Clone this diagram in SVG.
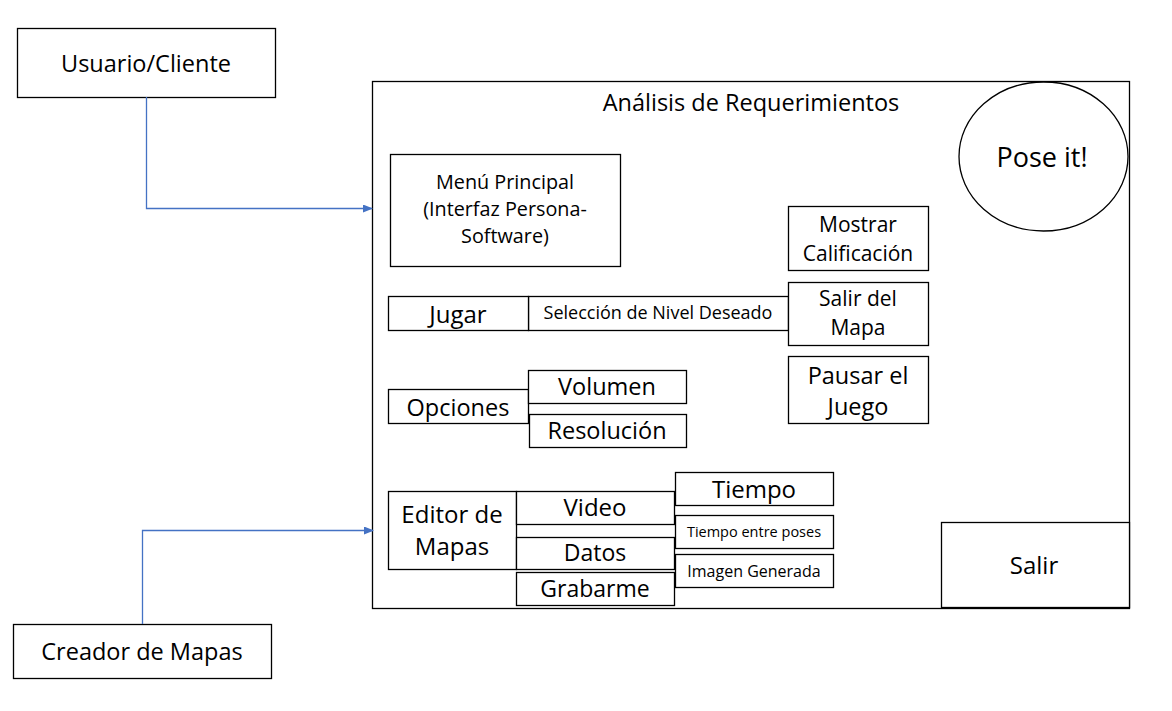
<svg xmlns="http://www.w3.org/2000/svg" width="1172" height="711" viewBox="0 0 1172 711">
<defs>
<style>
.b{fill:#fff;stroke:#000;stroke-width:1.3}
.t{font-family:"Open Sans","Liberation Sans",sans-serif;fill:#000;text-anchor:middle}
.c{fill:none;stroke:#4472C4;stroke-width:1.3}
</style>
<marker id="ah" markerWidth="10" markerHeight="8" refX="9" refY="4" orient="auto" markerUnits="userSpaceOnUse">
<path d="M0,0 L10,4 L0,8 Z" fill="#4472C4"/>
</marker>
</defs>
<rect width="1172" height="711" fill="#fff"/>
<g id="usuario">
<rect class="b" x="17.5" y="28.5" width="258" height="69"/>
<text class="t" x="146" y="72" font-size="23.5">Usuario/Cliente</text>
</g>
<g id="creador">
<rect class="b" x="13.5" y="624.5" width="258" height="54"/>
<text class="t" x="142" y="660" font-size="23.5">Creador de Mapas</text>
</g>
<g id="analisis">
<rect class="b" x="372.5" y="81.5" width="757" height="527"/>
<text class="t" x="751" y="111" font-size="23.5">Análisis de Requerimientos</text>
</g>
<g id="pose">
<ellipse class="b" cx="1043.5" cy="156.5" rx="84.5" ry="74.5" stroke-width="1.8"/>
<text class="t" x="1042" y="167" font-size="27">Pose it!</text>
</g>
<g id="menu">
<rect class="b" x="390.5" y="154.5" width="230" height="112"/>
<text class="t" x="505" y="189" font-size="19.8">Menú Principal</text>
<text class="t" x="505" y="216" font-size="19.8">(Interfaz Persona-</text>
<text class="t" x="505" y="243" font-size="19.8">Software)</text>
</g>
<g id="seleccion">
<rect class="b" x="528.5" y="296.5" width="260" height="34"/>
<text class="t" x="658" y="319" font-size="18">Selección de Nivel Deseado</text>
</g>
<g id="jugar">
<rect class="b" x="388.5" y="296.5" width="140" height="34"/>
<text class="t" x="458" y="323" font-size="24">Jugar</text>
</g>
<g id="mostrar">
<rect class="b" x="788.5" y="206.5" width="140" height="64"/>
<text class="t" x="858" y="232" font-size="21">Mostrar</text>
<text class="t" x="858" y="261" font-size="21">Calificación</text>
</g>
<g id="salirmapa">
<rect class="b" x="788.5" y="282.5" width="140" height="63"/>
<text class="t" x="858" y="306" font-size="21">Salir del</text>
<text class="t" x="858" y="335" font-size="21">Mapa</text>
</g>
<g id="pausar">
<rect class="b" x="788.5" y="356.5" width="140" height="67"/>
<text class="t" x="858" y="384" font-size="23.5">Pausar el</text>
<text class="t" x="858" y="415" font-size="23.5">Juego</text>
</g>
<g id="opciones">
<rect class="b" x="388.5" y="389.5" width="140" height="34"/>
<text class="t" x="458" y="416" font-size="23.5">Opciones</text>
</g>
<g id="volumen">
<rect class="b" x="528.5" y="370.5" width="158" height="33"/>
<text class="t" x="607" y="395" font-size="23.5">Volumen</text>
</g>
<g id="resolucion">
<rect class="b" x="529.5" y="414.5" width="157" height="33"/>
<text class="t" x="607" y="439" font-size="23.5">Resolución</text>
</g>
<g id="editor">
<rect class="b" x="388.5" y="491.5" width="128" height="78"/>
<text class="t" x="452" y="523" font-size="24">Editor de</text>
<text class="t" x="452" y="555" font-size="24">Mapas</text>
</g>
<g id="video">
<rect class="b" x="516.5" y="491.5" width="158" height="33"/>
<text class="t" x="595" y="516" font-size="24">Video</text>
</g>
<g id="datos">
<rect class="b" x="516.5" y="537.5" width="158" height="32"/>
<text class="t" x="595" y="561" font-size="23">Datos</text>
</g>
<g id="grabarme">
<rect class="b" x="516.5" y="572.5" width="158" height="33"/>
<text class="t" x="595" y="597" font-size="23">Grabarme</text>
</g>
<g id="tiempo">
<rect class="b" x="675.5" y="472.5" width="158" height="33"/>
<text class="t" x="754" y="498" font-size="24">Tiempo</text>
</g>
<g id="tiempoentre">
<rect class="b" x="675.5" y="515.5" width="158" height="33"/>
<text class="t" x="754" y="537" font-size="14.5">Tiempo entre poses</text>
</g>
<g id="imagen">
<rect class="b" x="675.5" y="554.5" width="158" height="33"/>
<text class="t" x="754" y="577" font-size="16">Imagen Generada</text>
</g>
<g id="salir">
<rect class="b" x="941.5" y="522.5" width="188" height="85" stroke-width="2"/>
<text class="t" x="1034" y="574" font-size="24">Salir</text>
</g>
<g id="connectors">
<path class="c" d="M146.5,97 V208.5 H372" marker-end="url(#ah)"/>
<path class="c" d="M142.5,624 V530.5 H373" marker-end="url(#ah)"/>
</g>
</svg>
